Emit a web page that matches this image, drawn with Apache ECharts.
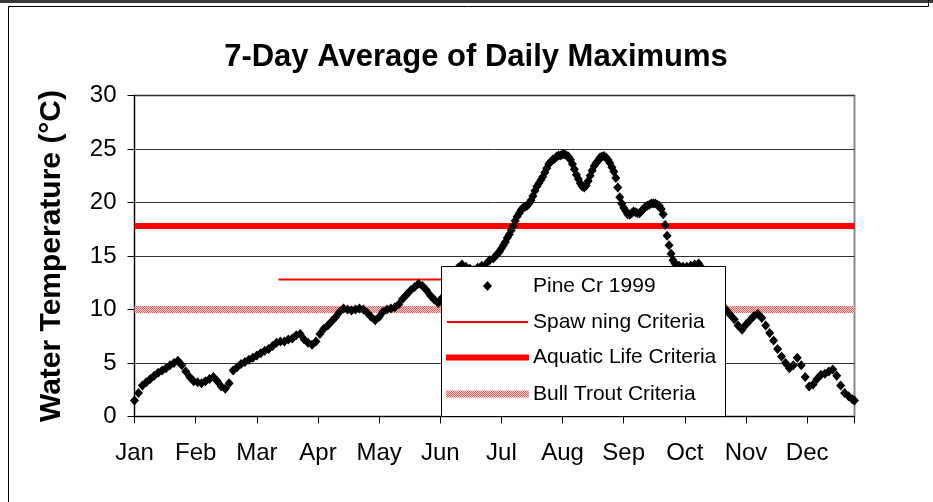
<!DOCTYPE html>
<html>
<head>
<meta charset="utf-8">
<script src="https://cdn.jsdelivr.net/npm/echarts@6/dist/echarts.min.js"></script>
<style>
  html, body { margin: 0; padding: 0; background: #fff; }
  #chart { width: 933px; height: 502px; }
</style>
</head>
<body>
<div id="chart"></div>
<script>
// Month labels, one per 31-day tick
const months = ['Jan', 'Feb', 'Mar', 'Apr', 'May', 'Jun', 'Jul', 'Aug', 'Sep', 'Oct', 'Nov', 'Dec'];

// Pine Creek 1999, 7-day average of daily maximum water temperature (°C)
const days = [
  0, 2, 4, 6, 8, 10, 12, 14, 16, 18, 20, 22, 24, 26, 28, 30,
  32, 34, 36, 38, 40, 42, 44, 46, 48, 50, 52, 54, 56, 58,
  60, 62, 64, 66, 68, 70, 72, 74, 76, 78, 80, 82, 84, 86, 88,
  90, 92, 94, 96, 98, 100, 102, 104, 106, 108, 110, 112, 114, 116, 118,
  120, 122, 124, 126, 128, 130, 132, 134, 136, 138, 140, 142, 144, 146, 148,
  150, 152, 154, 156, 158, 160, 162, 164, 166, 168, 170, 172, 174, 176, 178,
  180, 182, 184, 185, 186, 187, 188, 189, 190, 191, 192, 193, 194, 195, 196, 197, 198, 199,
  200, 201, 202, 203, 204, 205, 206, 207, 208, 209, 210, 211, 212, 213, 214, 215, 216, 217, 218, 219,
  220, 221, 222, 223, 224, 225, 226, 227, 228, 229, 230, 231, 232, 233, 234, 235, 236, 237, 238, 239,
  240, 241, 242, 243, 244, 245, 246, 247, 248, 249, 250, 251, 252, 253, 254, 255, 256, 257, 258, 259,
  260, 261, 262, 263, 264, 265, 266, 267, 268, 269, 270, 271, 272, 273, 274, 276, 278,
  280, 282, 284, 286, 288, 290, 292, 294, 296, 298,
  300, 302, 304, 306, 308, 310, 312, 314, 316, 318,
  320, 322, 324, 326, 328, 330, 332, 334, 336, 338,
  340, 342, 344, 346, 348, 350, 352, 354, 356, 358,
  360, 362, 364, 365
];
const temps = [
  1.5, 2.2, 2.9, 3.2, 3.5, 3.8, 4.1, 4.3, 4.5, 4.8, 5.0, 5.2, 4.8, 4.2, 3.7, 3.3,
  3.2, 3.1, 3.3, 3.5, 3.7, 3.3, 2.8, 2.6, 3.1, 4.3, 4.6, 4.9, 5.1, 5.3,
  5.5, 5.7, 5.9, 6.15, 6.3, 6.6, 6.9, 7.0, 7.0, 7.2, 7.3, 7.6, 7.7, 7.2, 6.9,
  6.7, 7.0, 7.7, 8.2, 8.5, 8.9, 9.3, 9.8, 10.1, 10.0, 9.9, 10.0, 10.1, 10.0, 9.7,
  9.3, 9.0, 9.3, 9.8, 10.0, 10.1, 10.2, 10.5, 11.0, 11.4, 11.8, 12.1, 12.4, 12.2, 11.8,
  11.3, 10.9, 10.6, 11.1, 11.9, 12.6, 13.3, 13.9, 14.2, 14.0, 13.8, 13.7, 13.9, 14.1, 14.2,
  14.6, 14.8, 15.2, 15.4, 15.7, 16.0, 16.3, 16.7, 17.0, 17.4, 17.8, 18.3, 18.7, 19.0, 19.3, 19.5, 19.6, 19.7,
  19.9, 20.2, 20.6, 21.1, 21.5, 21.8, 22.1, 22.4, 22.8, 23.2, 23.6, 23.8, 24.0, 24.1, 24.3, 24.4, 24.4, 24.5, 24.5, 24.4,
  24.3, 24.0, 23.6, 23.1, 22.6, 22.2, 21.8, 21.5, 21.4, 21.6, 22.0, 22.5, 23.0, 23.4, 23.7, 23.9, 24.2, 24.3, 24.35, 24.2,
  24.0, 23.7, 23.3, 22.9, 22.3, 21.4, 20.5, 19.9, 19.5, 19.2, 18.9, 18.85, 19.0, 19.15, 19.1, 19.0, 19.0, 19.2, 19.4, 19.6,
  19.7, 19.8, 19.9, 19.9, 19.9, 19.8, 19.7, 19.4, 18.9, 17.9, 16.9, 16.0, 15.2, 14.6, 14.3, 14.1, 14.0,
  14.0, 14.1, 14.2, 14.3, 13.8, 13.0, 12.2, 11.5, 10.9, 10.4,
  9.95, 9.5, 9.1, 8.5, 8.1, 8.6, 9.0, 9.4, 9.6, 9.2,
  8.5, 7.8, 7.1, 6.3, 5.6, 5.0, 4.5, 4.8, 5.5, 4.8,
  3.7, 2.8, 3.0, 3.5, 3.9, 4.0, 4.2, 4.4, 3.8, 2.9,
  2.2, 1.9, 1.6, 1.5
];

// Criteria levels (°C) and the day ranges they apply to
const spawningDays = [73, 181];
const spawningLevel = 12.8;
const aquaticDays = [0, 365];
const aquaticLevel = 17.8;
const bullTroutDays = [0, 365];
const bullTroutLevel = 10;

// Legend entries, top to bottom
const legendNames = ['Pine Cr 1999', 'Spaw ning Criteria', 'Aquatic Life Criteria', 'Bull Trout Criteria'];

const FONT = '"Liberation Sans", Arial, sans-serif';

// Fine red/pink dot texture for the bull trout band
function dotPattern() {
  const c = document.createElement('canvas');
  c.width = 2; c.height = 2;
  const g = c.getContext('2d');
  g.fillStyle = '#ffd4d4'; g.fillRect(0, 0, 2, 2);
  g.fillStyle = '#f05a5a'; g.fillRect(0, 0, 1, 1); g.fillRect(1, 1, 1, 1);
  return { image: c, repeat: 'repeat' };
}

const pine = days.map((d, i) => [d, temps[i]]);
const flat = (ds, v) => ds.map(d => [d, v]);

// Boxed legend drawn above the plot: key swatch on the left, label on the right
function legendBox() {
  const x0 = 441, y0 = 266, w = 284, h = 150;
  const rows = [286, 322, 357.5, 394];
  const kx1 = 447, kx2 = 528, kc = (kx1 + kx2) / 2;
  const Z = 100;
  const kids = [
    { type: 'rect', z: Z, shape: { x: x0 + 0.5, y: y0 + 0.5, width: w, height: h }, style: { fill: '#fff', stroke: '#000', lineWidth: 1 } },
    { type: 'polygon', z: Z + 1, shape: { points: [[kc, rows[0] - 5], [kc + 4.5, rows[0]], [kc, rows[0] + 5], [kc - 4.5, rows[0]]] }, style: { fill: '#000' } },
    { type: 'line', z: Z + 1, shape: { x1: kx1, y1: rows[1], x2: kx2, y2: rows[1] }, style: { stroke: '#ff0000', lineWidth: 2 } },
    { type: 'line', z: Z + 1, shape: { x1: kx1 - 1, y1: rows[2], x2: kx2 + 1, y2: rows[2] }, style: { stroke: '#ff0000', lineWidth: 6 } },
    { type: 'rect', z: Z + 1, shape: { x: kx1 - 1, y: rows[3] - 3.5, width: kx2 - kx1 + 2, height: 7 }, style: { fill: dotPattern() } }
  ];
  legendNames.forEach((n, i) => {
    kids.push({ type: 'text', z: Z + 1, x: 533, y: rows[i], style: { text: n, font: '21px ' + FONT, fill: '#000', verticalAlign: 'middle', align: 'left' } });
  });
  return kids.map(k => Object.assign(k, { silent: true }));
}

const chart = echarts.init(document.getElementById('chart'), null, { renderer: 'canvas' });
chart.setOption({
  backgroundColor: '#ffffff',
  animation: false,
  title: {
    text: '7-Day Average of Daily Maximums',
    left: 471, textAlign: 'center', top: 37,
    textStyle: { fontFamily: FONT, fontSize: 31, fontWeight: 'bold', color: '#000' }
  },
  grid: {
    left: 134.5, right: 78.5, top: 95.5, bottom: 85.5,
    show: true, borderColor: '#8a8a8a', borderWidth: 2, backgroundColor: '#fff'
  },
  xAxis: {
    type: 'value', min: 0, max: 365, interval: 31,
    axisLine: { show: true, lineStyle: { color: '#000', width: 1 } },
    axisTick: { show: true, length: 7, lineStyle: { color: '#000' } },
    splitLine: { show: false },
    axisLabel: {
      margin: 25, fontFamily: FONT, fontSize: 24, color: '#000',
      formatter: v => (v % 31 === 0 && v / 31 < months.length) ? months[v / 31] : ''
    }
  },
  yAxis: {
    type: 'value', min: 0, max: 30, interval: 5,
    name: 'Water Temperature (°C)', nameLocation: 'middle', nameGap: 68, nameRotate: 90,
    nameTextStyle: { fontFamily: FONT, fontSize: 30, fontWeight: 'bold', color: '#000' },
    axisLine: { show: true, lineStyle: { color: '#000', width: 1 } },
    axisTick: { show: true, length: 7, lineStyle: { color: '#000' } },
    splitLine: { show: true, lineStyle: { color: '#333', width: 1 } },
    axisLabel: { margin: 18, fontFamily: FONT, fontSize: 24, color: '#000' }
  },
  series: [
    {
      name: 'Bull Trout Criteria', type: 'line', symbol: 'none', silent: true,
      data: flat(bullTroutDays, bullTroutLevel),
      lineStyle: { width: 7, color: dotPattern() }
    },
    {
      name: 'Spaw ning Criteria', type: 'line', symbol: 'none', silent: true,
      data: flat(spawningDays, spawningLevel),
      lineStyle: { width: 2, color: '#ff0000' }
    },
    {
      name: 'Aquatic Life Criteria', type: 'line', symbol: 'none', silent: true,
      data: flat(aquaticDays, aquaticLevel),
      lineStyle: { width: 6, color: '#ff0000' }
    },
    {
      name: 'Pine Cr 1999', type: 'scatter', symbol: 'diamond', symbolSize: [9, 10],
      data: pine, itemStyle: { color: '#000', opacity: 1 }, z: 3
    }
  ],
  graphic: [
    { type: 'rect', shape: { x: 0, y: 0, width: 933, height: 3 }, style: { fill: '#3a3a3a' }, silent: true },
    { type: 'line', shape: { x1: 8.5, y1: 6.5, x2: 928.5, y2: 6.5 }, style: { stroke: '#000', lineWidth: 1 }, silent: true },
    { type: 'line', shape: { x1: 8.5, y1: 6.5, x2: 8.5, y2: 502 }, style: { stroke: '#000', lineWidth: 1 }, silent: true },
    { type: 'line', shape: { x1: 928.5, y1: 0, x2: 928.5, y2: 6.5 }, style: { stroke: '#000', lineWidth: 1 }, silent: true }
  ].concat(legendBox())
});
</script>
</body>
</html>
